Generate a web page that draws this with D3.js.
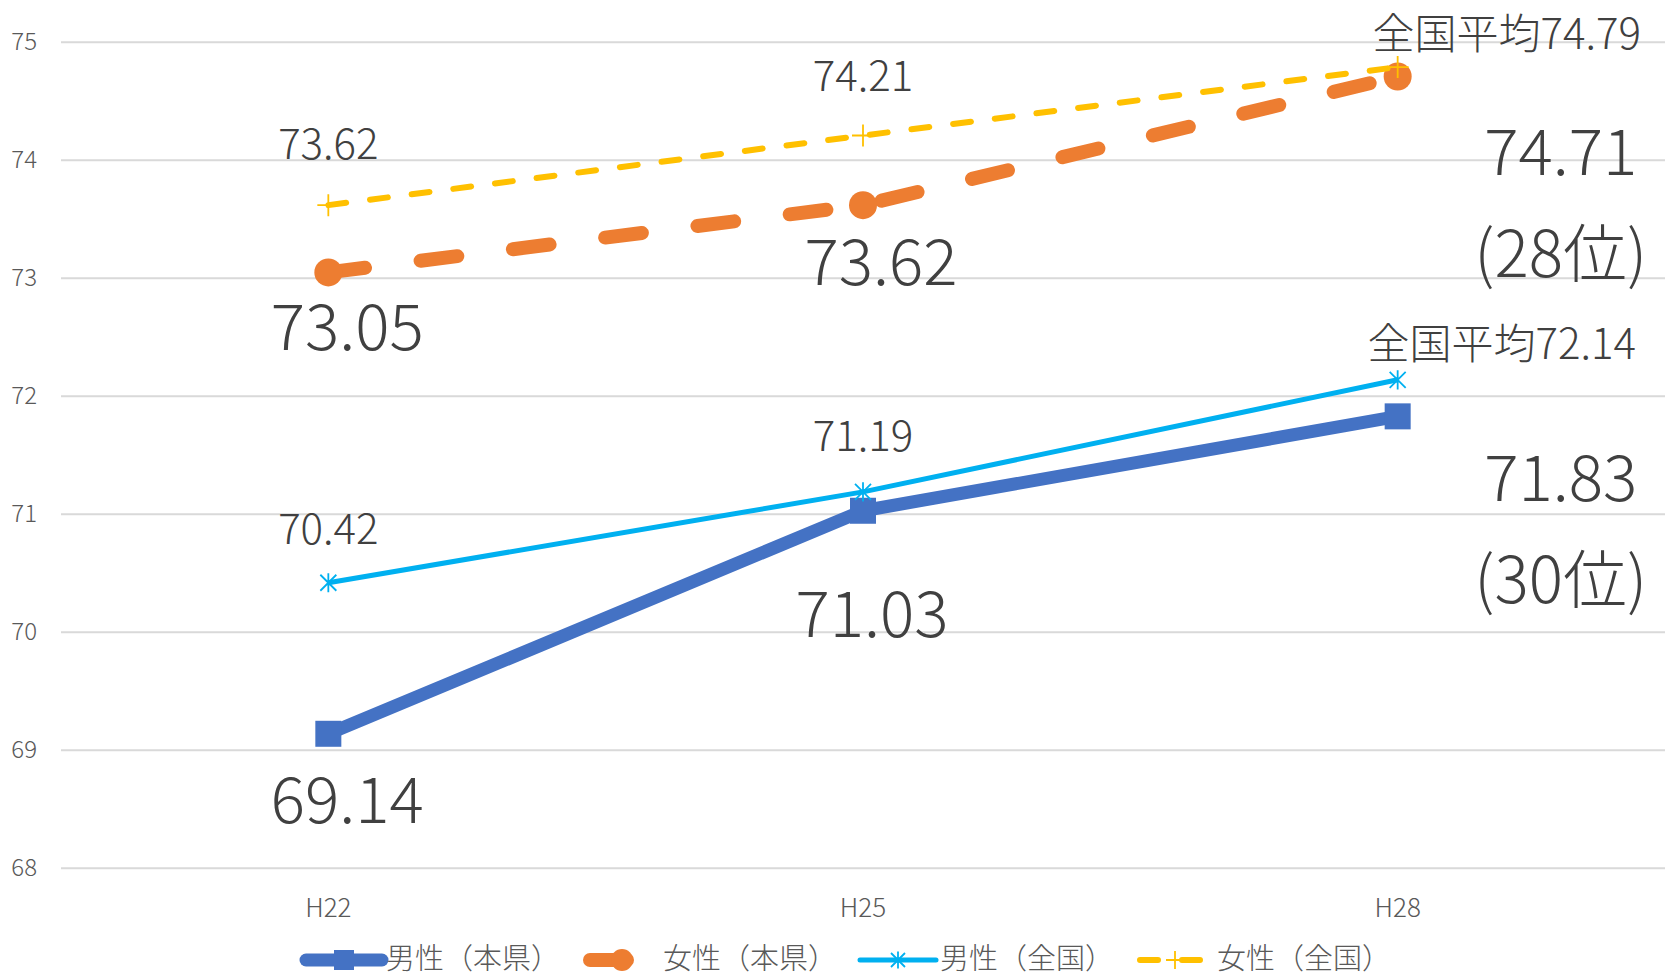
<!DOCTYPE html>
<html>
<head>
<meta charset="utf-8">
<script src="https://cdn.jsdelivr.net/npm/d3@7"></script>
<style>
	body { margin: 0; background: #fff; }
	svg { display: block; font-family: "Noto Sans CJK JP", "Noto Sans", sans-serif; font-weight: 300; }
</style>
</head>
<body>
<svg id="chart" width="1665" height="977"></svg>
<script>
// data
let categories = ['H22', 'H25', 'H28'];
let series_names = ['男性（本県）', '女性（本県）', '男性（全国）', '女性（全国）'];
let male_pref = [69.14, 71.03, 71.83];
let female_pref = [73.05, 73.62, 74.71];
let male_nat = [70.42, 71.19, 72.14];
let female_nat = [73.62, 74.21, 74.79];
let male_rank = [null, null, 30];
let female_rank = [null, null, 28];
let y_ticks = [68, 69, 70, 71, 72, 73, 74, 75];

let width = 1665, height = 977;
let plot = {left: 61, right: 1665, top: 42.3, bottom: 868.3};

let x = d3.scalePoint().domain(categories).range([plot.left, plot.right]).padding(0.5);
let y = d3.scaleLinear().domain([68, 75]).range([plot.bottom, plot.top]);

// styles per series, same order as series_names
let styles = [
	{color: '#4472C4', width: 13, dash: null, marker: 'square', size: 26, legend_size: 20},
	{color: '#ED7D31', width: 14, dash: '37,56', marker: 'circle', size: 14, legend_size: 11},
	{color: '#00B0F0', width: 5, dash: null, marker: 'star', size: 8, legend_size: 7},
	{color: '#FFC000', width: 6, dash: '18,24', marker: 'plus', size: 11, legend_size: 9},
];
let all_values = [male_pref, female_pref, male_nat, female_nat];

// label offsets from the point (layout only)
let label_layout = [
	[{dx: 19, dy: 89}, {dx: 9, dy: 126}, {dx: 163, dy: 85}],
	[{dx: 19, dy: 78}, {dx: 18, dy: 80}, {dx: 163, dy: 98}],
	[{dx: 0, dy: -39}, {dx: 0, dy: -41}, {dx: 104, dy: -21}],
	[{dx: 0, dy: -46}, {dx: 0, dy: -45}, {dx: 109, dy: -18}],
];
let big_font = 64, small_font = 42, rank_gap = 102;

let svg = d3.select('#chart');

// grid
svg.append('g').selectAll('line')
	.data(y_ticks)
	.enter().append('line')
	.attr('x1', plot.left).attr('x2', plot.right)
	.attr('y1', d => y(d)).attr('y2', d => y(d))
	.style('stroke', '#D9D9D9').style('stroke-width', 2);

svg.append('g').selectAll('text')
	.data(y_ticks)
	.enter().append('text')
	.attr('x', 37).attr('y', d => y(d) + 8)
	.attr('text-anchor', 'end')
	.style('font-size', '24px').style('fill', '#595959')
	.text(d => d);

svg.append('g').selectAll('text')
	.data(categories)
	.enter().append('text')
	.attr('x', d => x(d)).attr('y', 917)
	.attr('text-anchor', 'middle')
	.style('font-size', '26px').style('fill', '#595959')
	.text(d => d);

function draw_marker(g, type, cx, cy, s, color) {
	if (type === 'square') {
		g.append('rect')
			.attr('x', cx - s / 2).attr('y', cy - s / 2)
			.attr('width', s).attr('height', s)
			.style('fill', color);
	} else if (type === 'circle') {
		g.append('circle')
			.attr('cx', cx).attr('cy', cy).attr('r', s)
			.style('fill', color);
	} else if (type === 'star') {
		let p = `M${cx - s},${cy - s}L${cx + s},${cy + s}M${cx - s},${cy + s}L${cx + s},${cy - s}M${cx},${cy - s * 1.2}L${cx},${cy + s * 1.2}`;
		g.append('path').attr('d', p)
			.style('stroke', color).style('stroke-width', 1.8).style('fill', 'none');
	} else if (type === 'plus') {
		let p = `M${cx - s},${cy}L${cx + s},${cy}M${cx},${cy - s}L${cx},${cy + s}`;
		g.append('path').attr('d', p)
			.style('stroke', color).style('stroke-width', 1.8).style('fill', 'none');
	}
}

let line_function = d3.line()
	.x(d => x(d.cat))
	.y(d => y(d.v));

all_values.forEach((vals, si) => {
	let st = styles[si];
	let pts = vals.map((v, i) => ({cat: categories[i], v: v}));
	let g = svg.append('g').attr('class', 'series');
	g.append('path')
		.attr('d', line_function(pts))
		.style('fill', 'none')
		.style('stroke', st.color)
		.style('stroke-width', st.width)
		.style('stroke-linecap', st.dash ? 'round' : 'butt')
		.style('stroke-linejoin', 'round')
		.style('stroke-dasharray', st.dash);
	pts.forEach(p => draw_marker(g, st.marker, x(p.cat), y(p.v), st.size, st.color));
});

// data labels
let label_g = svg.append('g').attr('class', 'labels');
all_values.forEach((vals, si) => {
	let is_pref = si < 2;
	let ranks = si === 0 ? male_rank : female_rank;
	vals.forEach((v, i) => {
		let lay = label_layout[si][i];
		let lx = x(categories[i]) + lay.dx, ly = y(v) + lay.dy;
		let txt = v.toFixed(2);
		if (!is_pref && i === vals.length - 1) txt = '全国平均' + txt;
		label_g.append('text')
			.attr('x', lx).attr('y', ly)
			.attr('text-anchor', 'middle')
			.style('font-size', (is_pref ? big_font : small_font) + 'px')
			.style('fill', '#404040')
			.text(txt);
		if (is_pref && ranks[i] != null) {
			label_g.append('text')
				.attr('x', lx).attr('y', ly + rank_gap)
				.attr('text-anchor', 'middle')
				.style('font-size', big_font + 'px')
				.style('fill', '#404040')
				.text(`(${ranks[i]}位)`);
		}
	});
});

// legend
let legend = svg.append('g').attr('class', 'legend');
let legend_x0 = 306, legend_step = 277, legend_y = 960, sample_len = 76;
series_names.forEach((name, i) => {
	let st = styles[i];
	let lx = legend_x0 + legend_step * i;
	let g = legend.append('g');
	let cap = st.dash ? st.width / 2 : 0;
	g.append('line')
		.attr('x1', lx + cap).attr('x2', lx + sample_len - cap)
		.attr('y1', legend_y).attr('y2', legend_y)
		.style('stroke', st.color)
		.style('stroke-width', st.width)
		.style('stroke-linecap', 'round')
		.style('stroke-dasharray', st.dash);
	draw_marker(g, st.marker, lx + (st.marker === 'circle' ? 39 : sample_len / 2), legend_y, st.legend_size, st.color);
	g.append('text')
		.attr('x', lx + 80).attr('y', legend_y + 9)
		.style('font-size', '29px').style('fill', '#595959')
		.text(name);
});
</script>
</body>
</html>
